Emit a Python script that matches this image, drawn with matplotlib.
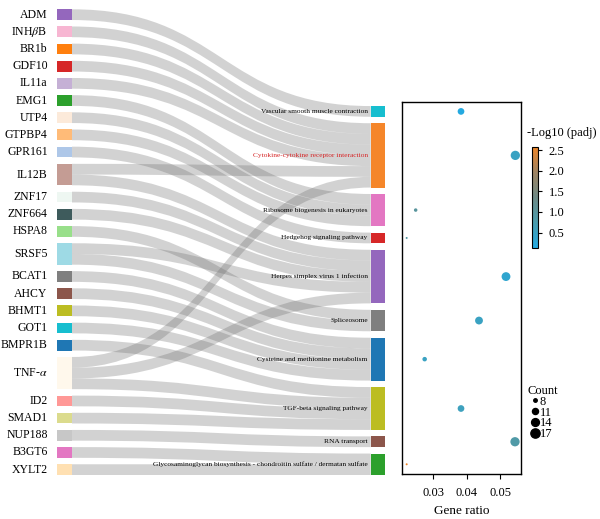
import matplotlib
matplotlib.use("Agg")
import matplotlib.pyplot as plt
import numpy as np
from matplotlib.colors import LinearSegmentedColormap, Normalize
from matplotlib.path import Path
from matplotlib.patches import PathPatch, Rectangle
from matplotlib.lines import Line2D
import matplotlib.cm as cm

plt.rcParams['font.family'] = ['Liberation Serif', 'DejaVu Serif']
plt.rcParams['mathtext.fontset'] = 'stix'

# ---------------- data ----------------
genes = ["ADM", "INH$\\beta$B", "BR1b", "GDF10", "IL11a", "EMG1", "UTP4", "GTPBP4",
         "GPR161", "IL12B", "ZNF17", "ZNF664", "HSPA8", "SRSF5", "BCAT1", "AHCY",
         "BHMT1", "GOT1", "BMPR1B", "TNF-$\\alpha$", "ID2", "SMAD1", "NUP188", "B3GT6", "XYLT2"]
gene_colors = ["#9467BD", "#F7B6D2", "#FF7F0E", "#D62728", "#C5B0D5", "#2CA02C", "#FCEADA", "#FFBB78",
               "#AEC7E8", "#C49C94", "#EEF7F2", "#3E5B5C", "#98DF8A", "#9EDAE5", "#7F7F7F", "#8C564B",
               "#BCBD22", "#17BECF", "#1F77B4", "#FFF8EC", "#FF9896", "#DBDB8D", "#C7C7C7", "#E377C2", "#FFE0B2"]

pathways = ["Vascular smooth muscle contraction",
            "Cytokine-cytokine receptor interaction",
            "Ribosome biogenesis in eukaryotes",
            "Hedgehog signaling pathway",
            "Herpes simplex virus 1 infection",
            "Spliceosome",
            "Cysteine and methionine metabolism",
            "TGF-beta signaling pathway",
            "RNA transport",
            "Glycosaminoglycan biosynthesis - chondroitin sulfate / dermatan sulfate"]
pathway_colors = ["#17BECF", "#F5862A", "#E377C2", "#D62728", "#9467BD",
                  "#7F7F7F", "#1F77B4", "#BCBD22", "#8C564B", "#2CA02C"]
pathway_label_colors = ["black", "#D62728", "black", "black", "black",
                        "black", "black", "black", "black", "black"]

link_source = ["ADM",
               "INH$\\beta$B", "BR1b", "GDF10", "IL11a", "IL12B", "TNF-$\\alpha$",
               "EMG1", "UTP4", "GTPBP4",
               "GPR161",
               "IL12B", "ZNF17", "ZNF664", "SRSF5", "TNF-$\\alpha$",
               "HSPA8", "SRSF5",
               "BCAT1", "AHCY", "BHMT1", "GOT1",
               "BMPR1B", "TNF-$\\alpha$", "ID2", "SMAD1",
               "NUP188",
               "B3GT6", "XYLT2"]
link_target = [0,
               1, 1, 1, 1, 1, 1,
               2, 2, 2,
               3,
               4, 4, 4, 4, 4,
               5, 5,
               6, 6, 6, 6,
               7, 7, 7, 7,
               8,
               9, 9]

gene_ratio = [0.0383, 0.0546, 0.0247, 0.0220, 0.0518, 0.0437, 0.0274, 0.0383, 0.0545, 0.0220]
gene_count = [12, 17, 8, 7, 16, 14, 9, 12, 17, 7]
neglog_padj = [0.15, 0.50, 1.00, 0.90, 0.35, 0.50, 0.50, 0.55, 0.85, 2.58]
count_breaks = [8, 11, 14, 17]
padj_ticks = [0.5, 1.0, 1.5, 2.0, 2.5]

# ---------------- layout (pixel coordinates) ----------------
W, H = 600, 519
fig = plt.figure(figsize=(W / 100, H / 100), dpi=100)
ax = fig.add_axes([0, 0, 1, 1])
ax.set_xlim(0, W)
ax.set_ylim(H, 0)
ax.axis('off')

left_x0, left_x1 = 56.7, 72.0
right_x0, right_x1 = 370.7, 385.0
y_top, y_bot = 9.3, 475.0
pad = 6.45

gidx = {g: i for i, g in enumerate(genes)}
src = [gidx[s] for s in link_source]
gene_val = np.bincount(src, minlength=len(genes))
path_val = np.bincount(link_target, minlength=len(pathways))
ky = (y_bot - y_top - (len(genes) - 1) * pad) / gene_val.sum()

# left nodes
gy0 = []
y = y_top
for v in gene_val:
    gy0.append(y)
    y += v * ky + pad
# right nodes, aligned to bottom
tot = path_val.sum() * ky + (len(pathways) - 1) * pad
py0 = []
y = y_bot - tot
for v in path_val:
    py0.append(y)
    y += v * ky + pad

# link slots
n = len(src)
src_off = {}
for g in range(len(genes)):
    ls = sorted([k for k in range(n) if src[k] == g], key=lambda k: link_target[k])
    yy = gy0[g]
    for k in ls:
        src_off[k] = yy
        yy += ky
tgt_off = {}
for p in range(len(pathways)):
    ls = sorted([k for k in range(n) if link_target[k] == p], key=lambda k: src[k])
    yy = py0[p]
    for k in ls:
        tgt_off[k] = yy
        yy += ky

xm = (left_x1 + right_x0) / 2
for k in range(n):
    s0, t0 = src_off[k], tgt_off[k]
    s1, t1 = s0 + ky, t0 + ky
    verts = [(left_x1, s0), (xm, s0), (xm, t0), (right_x0, t0),
             (right_x0, t1), (xm, t1), (xm, s1), (left_x1, s1), (left_x1, s0)]
    codes = [Path.MOVETO, Path.CURVE4, Path.CURVE4, Path.CURVE4,
             Path.LINETO, Path.CURVE4, Path.CURVE4, Path.CURVE4, Path.CLOSEPOLY]
    ax.add_patch(PathPatch(Path(verts, codes), facecolor="#6C6C6C", edgecolor='none',
                           alpha=0.3, zorder=1))

for i, g in enumerate(genes):
    h = gene_val[i] * ky
    ax.add_patch(Rectangle((left_x0, gy0[i]), left_x1 - left_x0, h,
                           facecolor=gene_colors[i], edgecolor='none', zorder=2))
    ax.text(left_x0 - 9, gy0[i] + h / 2, g, ha='right', va='center', fontsize=8.5, zorder=3)

path_centers = []
for i, p in enumerate(pathways):
    h = path_val[i] * ky
    ax.add_patch(Rectangle((right_x0, py0[i]), right_x1 - right_x0, h,
                           facecolor=pathway_colors[i], edgecolor='none', zorder=2))
    c = py0[i] + h / 2
    path_centers.append(c)
    ax.text(right_x0 - 3, c, p, ha='right', va='center', fontsize=5.3,
            color=pathway_label_colors[i], zorder=3)

# ---------------- dot plot ----------------
sx0, sx1, sy0, sy1 = 402, 521, 102, 474
axs = fig.add_axes([sx0 / W, 1 - sy1 / H, (sx1 - sx0) / W, (sy1 - sy0) / H])
axs.set_ylim(sy1, sy0)
axs.set_xlim(0.0206, 0.0563)

cmap = LinearSegmentedColormap.from_list("padj", ["#22AAE2", "#4A9DAE", "#6E8A86", "#A08462", "#EE8528"])
norm = Normalize(vmin=0.12, vmax=2.58)


def size_for(c):
    return 2.07 + 4.25 * (np.asarray(c, dtype=float) - 7)


axs.scatter(gene_ratio, path_centers, s=size_for(gene_count), c=neglog_padj,
            cmap=cmap, norm=norm, edgecolors='none', zorder=3, clip_on=False)
axs.set_yticks([])
axs.set_xticks([0.03, 0.04, 0.05])
axs.set_xticklabels(["0.03", "0.04", "0.05"])
axs.tick_params(axis='x', labelsize=9, length=3.5, width=0.8, pad=6)
for sp in axs.spines.values():
    sp.set_linewidth(1.0)
axs.set_xlabel("Gene ratio", fontsize=9.5, labelpad=4)

# colorbar
cax = fig.add_axes([532 / W, 1 - 248.3 / H, 5.5 / W, (248.3 - 146.7) / H])
cb = fig.colorbar(cm.ScalarMappable(norm=norm, cmap=cmap), cax=cax, ticks=padj_ticks)
cb.ax.set_yticklabels([f"{t:.1f}" for t in padj_ticks])
cb.ax.tick_params(labelsize=9, length=3, width=0.8, pad=5)
cb.outline.set_linewidth(0.8)
fig.text(527 / W, 1 - 133 / H, "-Log10 (padj)", fontsize=9, ha='left', va='center')

# size legend
handles = [Line2D([], [], marker='o', linestyle='', color='black',
                  markersize=np.sqrt(size_for(b))) for b in count_breaks]
leg = fig.legend(handles, [str(b) for b in count_breaks], title="Count",
                 loc='upper left', bbox_to_anchor=(527 / W, 1 - 385 / H),
                 frameon=False, fontsize=9, title_fontsize=9, handlelength=1.3,
                 handletextpad=-0.3, labelspacing=-0.1, borderpad=0, borderaxespad=0,
                 alignment='left')

fig.savefig("out.png", dpi=100)
